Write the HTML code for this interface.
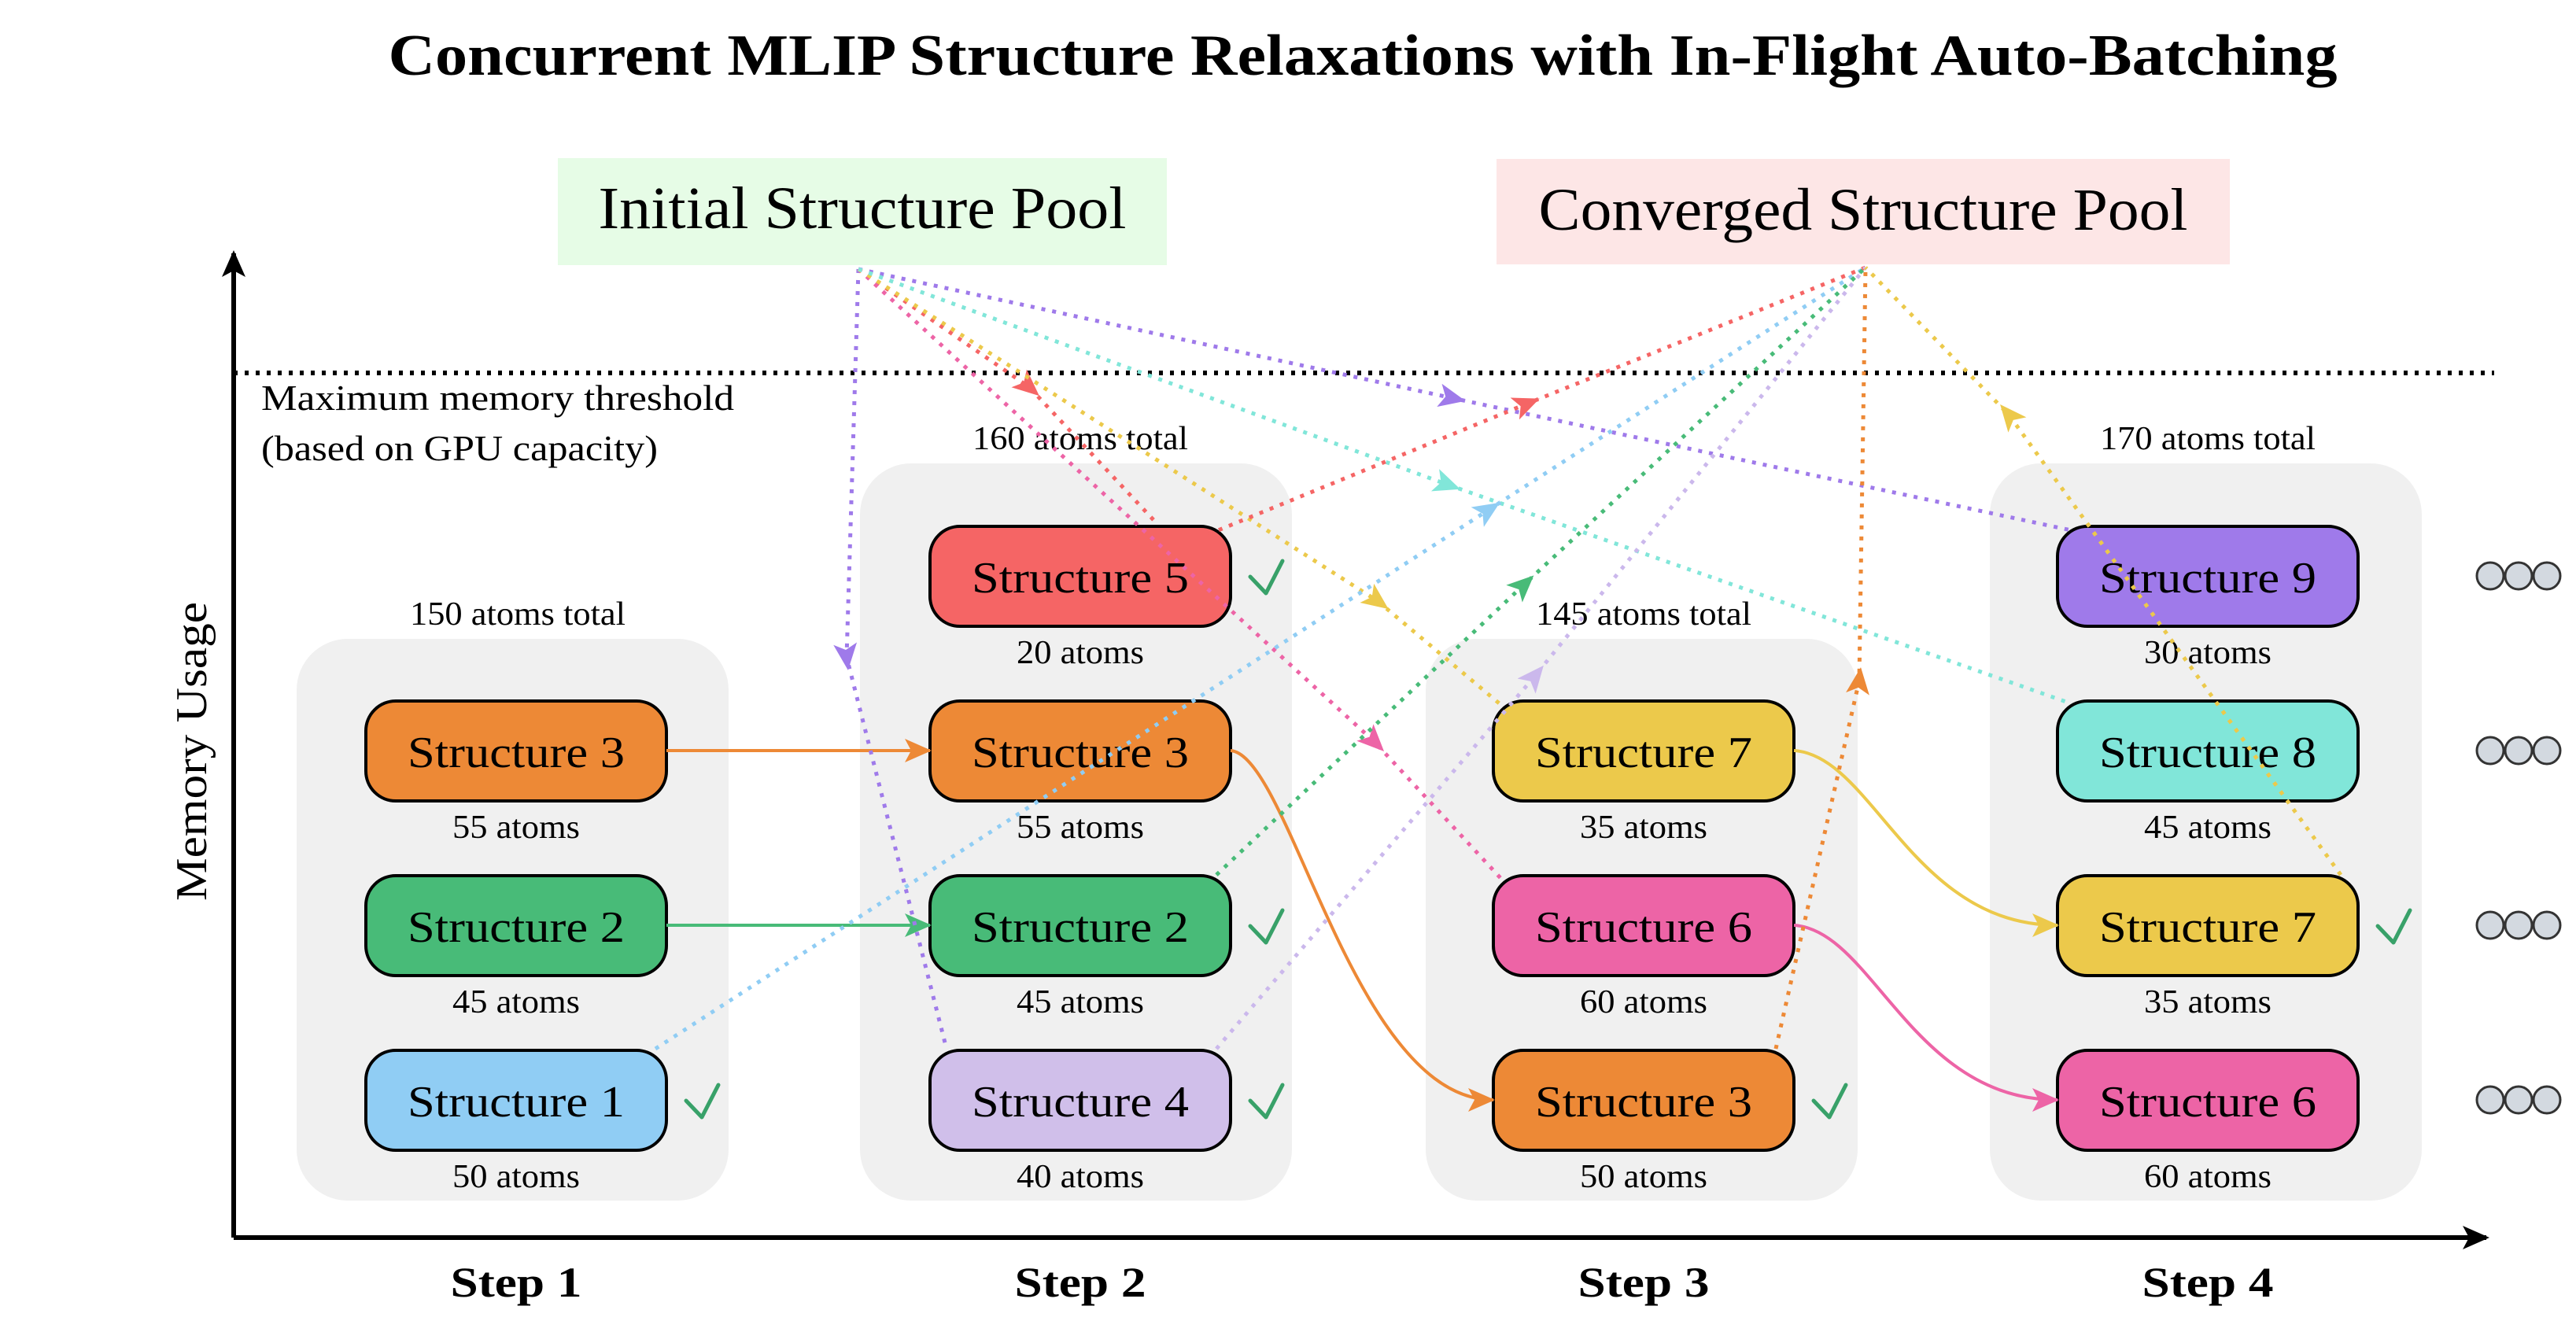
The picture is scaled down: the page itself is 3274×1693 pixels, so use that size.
<!DOCTYPE html>
<html><head><meta charset="utf-8"><style>html,body{margin:0;padding:0;background:#fff}svg{display:block}</style></head>
<body>
<svg width="3274" height="1693" viewBox="0 0 3274 1693" xmlns="http://www.w3.org/2000/svg" font-family="'Liberation Serif', serif">
<defs>
<marker id="k" markerUnits="userSpaceOnUse" markerWidth="34" markerHeight="30" refX="30" refY="15" orient="auto"><path d="M0,0 L34,15 L0,30 L8,15 z" fill="#000"/></marker>
<marker id="mPu" markerUnits="userSpaceOnUse" markerWidth="34" markerHeight="30" refX="17" refY="15" orient="auto"><path d="M0,0 L34,15 L0,30 L8,15 z" fill="#9f7aea"/></marker>
<marker id="mR" markerUnits="userSpaceOnUse" markerWidth="34" markerHeight="30" refX="17" refY="15" orient="auto"><path d="M0,0 L34,15 L0,30 L8,15 z" fill="#f56565"/></marker>
<marker id="mPk" markerUnits="userSpaceOnUse" markerWidth="34" markerHeight="30" refX="17" refY="15" orient="auto"><path d="M0,0 L34,15 L0,30 L8,15 z" fill="#ed64a6"/></marker>
<marker id="mY" markerUnits="userSpaceOnUse" markerWidth="34" markerHeight="30" refX="17" refY="15" orient="auto"><path d="M0,0 L34,15 L0,30 L8,15 z" fill="#ecc94b"/></marker>
<marker id="mT" markerUnits="userSpaceOnUse" markerWidth="34" markerHeight="30" refX="17" refY="15" orient="auto"><path d="M0,0 L34,15 L0,30 L8,15 z" fill="#81e6d9"/></marker>
<marker id="mB" markerUnits="userSpaceOnUse" markerWidth="34" markerHeight="30" refX="17" refY="15" orient="auto"><path d="M0,0 L34,15 L0,30 L8,15 z" fill="#90cdf4"/></marker>
<marker id="mG" markerUnits="userSpaceOnUse" markerWidth="34" markerHeight="30" refX="17" refY="15" orient="auto"><path d="M0,0 L34,15 L0,30 L8,15 z" fill="#48bb78"/></marker>
<marker id="mL" markerUnits="userSpaceOnUse" markerWidth="34" markerHeight="30" refX="17" refY="15" orient="auto"><path d="M0,0 L34,15 L0,30 L8,15 z" fill="#cbb8ec"/></marker>
<marker id="mO" markerUnits="userSpaceOnUse" markerWidth="34" markerHeight="30" refX="17" refY="15" orient="auto"><path d="M0,0 L34,15 L0,30 L8,15 z" fill="#ed8936"/></marker>
<marker id="eO" markerUnits="userSpaceOnUse" markerWidth="34" markerHeight="30" refX="32" refY="15" orient="auto"><path d="M0,0 L34,15 L0,30 L8,15 z" fill="#ed8936"/></marker>
<marker id="eG" markerUnits="userSpaceOnUse" markerWidth="34" markerHeight="30" refX="32" refY="15" orient="auto"><path d="M0,0 L34,15 L0,30 L8,15 z" fill="#48bb78"/></marker>
<marker id="eY" markerUnits="userSpaceOnUse" markerWidth="34" markerHeight="30" refX="32" refY="15" orient="auto"><path d="M0,0 L34,15 L0,30 L8,15 z" fill="#ecc94b"/></marker>
<marker id="ePk" markerUnits="userSpaceOnUse" markerWidth="34" markerHeight="30" refX="32" refY="15" orient="auto"><path d="M0,0 L34,15 L0,30 L8,15 z" fill="#ed64a6"/></marker>
</defs>

<text x="1732" y="95" text-anchor="middle" font-size="74" font-weight="bold" textLength="2477" lengthAdjust="spacingAndGlyphs">Concurrent MLIP Structure Relaxations with In-Flight Auto-Batching</text>

<rect x="709" y="201" width="774" height="136" fill="#e6fce6"/>
<text x="1096" y="290" text-anchor="middle" font-size="76" textLength="671" lengthAdjust="spacingAndGlyphs">Initial Structure Pool</text>
<rect x="1902" y="202" width="932" height="134" fill="#fde6e6"/>
<text x="2368" y="292" text-anchor="middle" font-size="76" textLength="825" lengthAdjust="spacingAndGlyphs">Converged Structure Pool</text>

<!-- axes -->
<line x1="297" y1="1573" x2="297" y2="322" stroke="#000" stroke-width="6" marker-end="url(#k)"/>
<line x1="297" y1="1573" x2="3160" y2="1573" stroke="#000" stroke-width="6" marker-end="url(#k)"/>
<line x1="297" y1="474" x2="3170" y2="474" stroke="#000" stroke-width="6" stroke-dasharray="5 9"/>
<text x="332" y="521" font-size="46" textLength="601" lengthAdjust="spacingAndGlyphs">Maximum memory threshold</text>
<text x="332" y="585" font-size="46" textLength="504" lengthAdjust="spacingAndGlyphs">(based on GPU capacity)</text>
<text transform="translate(262,955) rotate(-90)" text-anchor="middle" font-size="56" textLength="380" lengthAdjust="spacingAndGlyphs">Memory Usage</text>

<!-- groups -->
<g fill="#f0f0f0">
<rect x="377" y="812" width="549" height="714" rx="65"/>
<rect x="1093" y="589" width="549" height="937" rx="65"/>
<rect x="1812" y="812" width="549" height="714" rx="65"/>
<rect x="2529" y="589" width="549" height="937" rx="65"/>
</g>
<g font-size="42" text-anchor="middle">
<text x="658" y="794" textLength="274" lengthAdjust="spacingAndGlyphs">150 atoms total</text>
<text x="1373" y="571" textLength="274" lengthAdjust="spacingAndGlyphs">160 atoms total</text>
<text x="2089" y="794" textLength="274" lengthAdjust="spacingAndGlyphs">145 atoms total</text>
<text x="2806" y="571" textLength="274" lengthAdjust="spacingAndGlyphs">170 atoms total</text>
</g>

<!-- nodes -->
<g stroke="#000" stroke-width="4">
<rect x="465" y="891" width="382" height="127" rx="38" fill="#ed8936"/>
<rect x="465" y="1113" width="382" height="127" rx="38" fill="#48bb78"/>
<rect x="465" y="1335" width="382" height="127" rx="38" fill="#90cdf4"/>
<rect x="1182" y="669" width="382" height="127" rx="38" fill="#f56565"/>
<rect x="1182" y="891" width="382" height="127" rx="38" fill="#ed8936"/>
<rect x="1182" y="1113" width="382" height="127" rx="38" fill="#48bb78"/>
<rect x="1182" y="1335" width="382" height="127" rx="38" fill="#d0bfea"/>
<rect x="1898" y="891" width="382" height="127" rx="38" fill="#ecc94b"/>
<rect x="1898" y="1113" width="382" height="127" rx="38" fill="#ed64a6"/>
<rect x="1898" y="1335" width="382" height="127" rx="38" fill="#ed8936"/>
<rect x="2615" y="669" width="382" height="127" rx="38" fill="#9f7aea"/>
<rect x="2615" y="891" width="382" height="127" rx="38" fill="#81e6d9"/>
<rect x="2615" y="1113" width="382" height="127" rx="38" fill="#ecc94b"/>
<rect x="2615" y="1335" width="382" height="127" rx="38" fill="#ed64a6"/>
</g>
<g font-size="56" text-anchor="middle">
<text x="656" y="975" textLength="276" lengthAdjust="spacingAndGlyphs">Structure 3</text>
<text x="656" y="1197" textLength="276" lengthAdjust="spacingAndGlyphs">Structure 2</text>
<text x="656" y="1419" textLength="276" lengthAdjust="spacingAndGlyphs">Structure 1</text>
<text x="1373" y="753" textLength="276" lengthAdjust="spacingAndGlyphs">Structure 5</text>
<text x="1373" y="975" textLength="276" lengthAdjust="spacingAndGlyphs">Structure 3</text>
<text x="1373" y="1197" textLength="276" lengthAdjust="spacingAndGlyphs">Structure 2</text>
<text x="1373" y="1419" textLength="276" lengthAdjust="spacingAndGlyphs">Structure 4</text>
<text x="2089" y="975" textLength="276" lengthAdjust="spacingAndGlyphs">Structure 7</text>
<text x="2089" y="1197" textLength="276" lengthAdjust="spacingAndGlyphs">Structure 6</text>
<text x="2089" y="1419" textLength="276" lengthAdjust="spacingAndGlyphs">Structure 3</text>
<text x="2806" y="753" textLength="276" lengthAdjust="spacingAndGlyphs">Structure 9</text>
<text x="2806" y="975" textLength="276" lengthAdjust="spacingAndGlyphs">Structure 8</text>
<text x="2806" y="1197" textLength="276" lengthAdjust="spacingAndGlyphs">Structure 7</text>
<text x="2806" y="1419" textLength="276" lengthAdjust="spacingAndGlyphs">Structure 6</text>
</g>
<g font-size="42" text-anchor="middle">
<text x="656" y="1065" textLength="162" lengthAdjust="spacingAndGlyphs">55 atoms</text>
<text x="656" y="1287" textLength="162" lengthAdjust="spacingAndGlyphs">45 atoms</text>
<text x="656" y="1509" textLength="162" lengthAdjust="spacingAndGlyphs">50 atoms</text>
<text x="1373" y="843" textLength="162" lengthAdjust="spacingAndGlyphs">20 atoms</text>
<text x="1373" y="1065" textLength="162" lengthAdjust="spacingAndGlyphs">55 atoms</text>
<text x="1373" y="1287" textLength="162" lengthAdjust="spacingAndGlyphs">45 atoms</text>
<text x="1373" y="1509" textLength="162" lengthAdjust="spacingAndGlyphs">40 atoms</text>
<text x="2089" y="1065" textLength="162" lengthAdjust="spacingAndGlyphs">35 atoms</text>
<text x="2089" y="1287" textLength="162" lengthAdjust="spacingAndGlyphs">60 atoms</text>
<text x="2089" y="1509" textLength="162" lengthAdjust="spacingAndGlyphs">50 atoms</text>
<text x="2806" y="843" textLength="162" lengthAdjust="spacingAndGlyphs">30 atoms</text>
<text x="2806" y="1065" textLength="162" lengthAdjust="spacingAndGlyphs">45 atoms</text>
<text x="2806" y="1287" textLength="162" lengthAdjust="spacingAndGlyphs">35 atoms</text>
<text x="2806" y="1509" textLength="162" lengthAdjust="spacingAndGlyphs">60 atoms</text>
</g>

<!-- checks -->
<g fill="none" stroke="#38a169" stroke-width="5" stroke-linecap="round" stroke-linejoin="round">
<polyline points="872,1399 892,1420 913,1379"/>
<polyline points="1589,733 1609,754 1630,713"/>
<polyline points="1589,1177 1609,1198 1630,1157"/>
<polyline points="1589,1399 1609,1420 1630,1379"/>
<polyline points="2305,1399 2325,1420 2346,1379"/>
<polyline points="3022,1177 3042,1198 3063,1157"/>
</g>

<!-- ellipsis -->
<g fill="#d3d9e0" stroke="#333" stroke-width="3">
<circle cx="3165" cy="732" r="17"/><circle cx="3201" cy="732" r="17"/><circle cx="3237" cy="732" r="17"/>
<circle cx="3165" cy="954" r="17"/><circle cx="3201" cy="954" r="17"/><circle cx="3237" cy="954" r="17"/>
<circle cx="3165" cy="1176" r="17"/><circle cx="3201" cy="1176" r="17"/><circle cx="3237" cy="1176" r="17"/>
<circle cx="3165" cy="1398" r="17"/><circle cx="3201" cy="1398" r="17"/><circle cx="3237" cy="1398" r="17"/>
</g>

<!-- solid connectors -->
<g fill="none" stroke-width="4">
<line x1="847" y1="954" x2="1182" y2="954" stroke="#ed8936" marker-end="url(#eO)"/>
<line x1="847" y1="1176" x2="1182" y2="1176" stroke="#48bb78" marker-end="url(#eG)"/>
<path d="M1564,954 C1640,960 1720,1398 1898,1398" stroke="#ed8936" marker-end="url(#eO)"/>
<path d="M2280,954 C2380,960 2430,1176 2615,1176" stroke="#ecc94b" marker-end="url(#eY)"/>
<path d="M2280,1176 C2380,1182 2430,1398 2615,1398" stroke="#ed64a6" marker-end="url(#ePk)"/>
</g>

<!-- dotted connectors -->
<g fill="none" stroke-width="5" stroke-dasharray="5 9">
<polyline points="1091,342 1076,835 1203,1333" stroke="#9f7aea" marker-mid="url(#mPu)"/>
<polyline points="1091,342 1846,506 2637,675" stroke="#9f7aea" marker-mid="url(#mPu)"/>
<polyline points="1091,342 1308,492 1470,665" stroke="#f56565" marker-mid="url(#mR)"/>
<polyline points="1091,342 1747,943 1909,1118" stroke="#ed64a6" marker-mid="url(#mPk)"/>
<polyline points="1091,342 1751,764 1909,897" stroke="#ecc94b" marker-mid="url(#mY)"/>
<polyline points="1091,342 1840,616 2626,892" stroke="#81e6d9" marker-mid="url(#mT)"/>
<polyline points="1536,679 1941,513 2371,340" stroke="#f56565" marker-mid="url(#mR)"/>
<polyline points="833,1333 1892,648 2371,340" stroke="#90cdf4" marker-mid="url(#mB)"/>
<polyline points="1546,1112 1937,743 2371,340" stroke="#48bb78" marker-mid="url(#mG)"/>
<polyline points="1546,1333 1951,859 2371,340" stroke="#cbb8ec" marker-mid="url(#mL)"/>
<polyline points="2257,1333 2363,865 2371,340" stroke="#ed8936" marker-mid="url(#mO)"/>
<polyline points="2975,1112 2553,527 2371,340" stroke="#ecc94b" marker-mid="url(#mY)"/>
</g>

<g font-size="54" font-weight="bold" text-anchor="middle">
<text x="656" y="1648" textLength="167" lengthAdjust="spacingAndGlyphs">Step 1</text>
<text x="1373" y="1648" textLength="167" lengthAdjust="spacingAndGlyphs">Step 2</text>
<text x="2089" y="1648" textLength="167" lengthAdjust="spacingAndGlyphs">Step 3</text>
<text x="2806" y="1648" textLength="167" lengthAdjust="spacingAndGlyphs">Step 4</text>
</g>
</svg>
</body></html>
